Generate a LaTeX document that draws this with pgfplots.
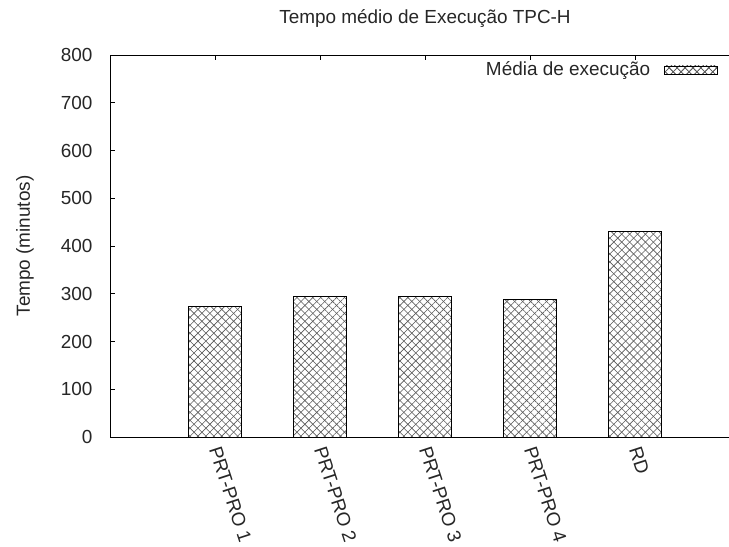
\documentclass[border=0pt]{standalone}
\usepackage{fontspec}
\setmainfont{Liberation Sans}
\usepackage{pgfplots}
\pgfplotsset{compat=1.18}
\usetikzlibrary{patterns.meta}

% hatching used for the bars and the legend key
\tikzset{
  xhatch/.style={
    fill=white,
    postaction={pattern={Lines[angle=45,distance=5.6bp,line width=0.6bp]},pattern color=black!65},
    postaction={pattern={Lines[angle=-45,distance=5.6bp,line width=0.6bp]},pattern color=black!65},
  }
}

\begin{document}
\fontsize{19}{23}\selectfont
\color{black!85}
\begin{tikzpicture}
\path[use as bounding box] (0,0) rectangle (729bp,547bp);
\begin{axis}[
  at={(110bp,110bp)}, anchor=south west,
  scale only axis,
  width=630bp, height=382bp,
  xmin=-1, xmax=5,
  ymin=0, ymax=800,
  ytick={0,100,...,800},
  xtick={0,1,2,3,4},
  xticklabels={PRT-PRO 1,PRT-PRO 2,PRT-PRO 3,PRT-PRO 4,RD},
  xtick pos=right, xticklabel pos=left,
  ytick pos=left,
  tick align=inside,
  major tick length=5bp,
  tick style={black, line width=0.8bp},
  axis line style={black, line width=0.8bp},
  /pgf/number format/assume math mode=true,
  yticklabel style={xshift=-11bp},
  xticklabel shift=10bp,
  xticklabel style={rotate=-72, anchor=west, inner sep=0pt},
  title={Tempo médio de Execução TPC-H},
  title style={at={(0.5,1)}, anchor=base, yshift=26bp, inner sep=0pt},
  ylabel={Tempo (minutos)},
  every axis y label/.style={at={(axis description cs:-0.135,0.5)}, rotate=90, anchor=center},
  legend style={draw=none, fill=none, at={(0.965,0.961)}, anchor=east, inner sep=0pt, outer sep=0pt,
                nodes={inner sep=0pt}, column sep=14bp},
  legend plot pos=right,
  legend cell align=right,
]
\addplot[ybar, bar width=0.5, draw=black, line width=0.8bp, xhatch,
  legend image code/.code={\draw[black, line width=0.8bp, xhatch] (0bp,-4bp) rectangle (53bp,4bp);}]
  coordinates {(0,274) (1,294) (2,295) (3,288) (4,430)};
\addlegendentry{Média de execução}
\end{axis}
\end{tikzpicture}
\end{document}
